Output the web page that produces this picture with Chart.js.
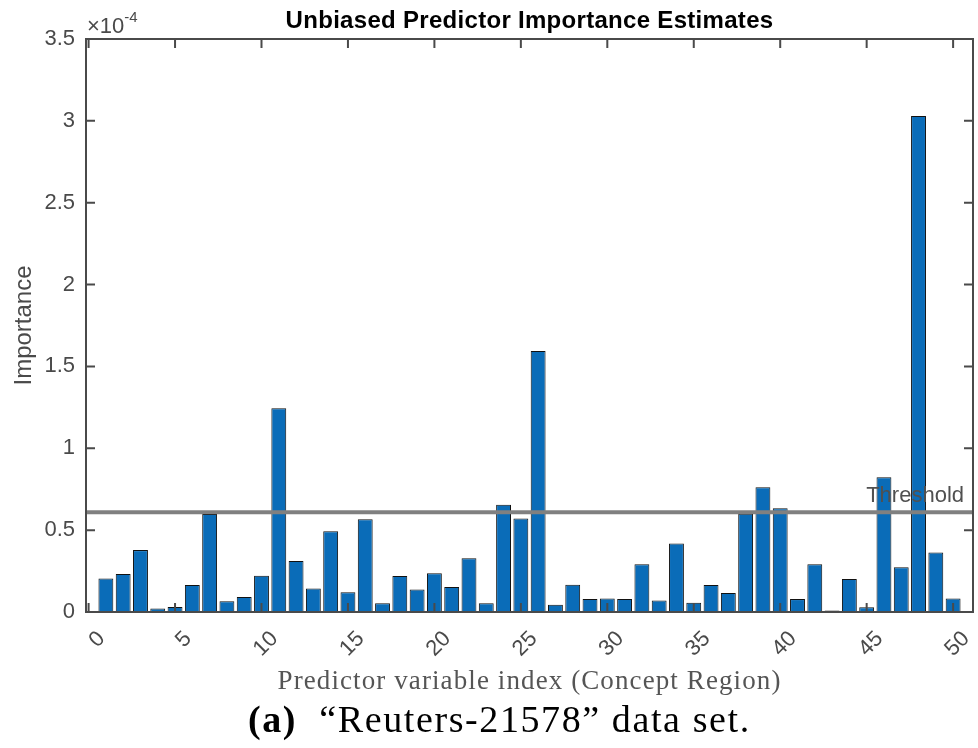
<!DOCTYPE html>
<html>
<head>
<meta charset="utf-8">
<script src="https://cdn.jsdelivr.net/npm/chart.js@4/dist/chart.umd.min.js"></script>
<style>
  body { margin: 0; background: #fff; }
  #wrap { position: relative; width: 978px; height: 748px; }
  #caption {
    position: absolute; left: 248px; top: 700px;
    font-family: "Liberation Serif", serif; font-size: 38px; line-height: 38px;
    letter-spacing: 1.6px; color: #000; white-space: nowrap;
  }
</style>
</head>
<body>
<div id="wrap">
  <canvas id="chart" width="978" height="748"></canvas>
  <div id="caption"><b>(a)</b>&nbsp; “Reuters-21578” data set.</div>
</div>
<script>
// predictor index (x) and unbiased importance estimates, in units of 1e-4
const predictorIndex = [
  1, 2, 3, 4, 5, 6, 7, 8, 9, 10,
  11, 12, 13, 14, 15, 16, 17, 18, 19, 20,
  21, 22, 23, 24, 25, 26, 27, 28, 29, 30,
  31, 32, 33, 34, 35, 36, 37, 38, 39, 40,
  41, 42, 43, 44, 45, 46, 47, 48, 49, 50,
];
const importance = [
  0.204, 0.232, 0.378, 0.021, 0.030, 0.165, 0.598, 0.065, 0.091, 0.222,
  1.245, 0.311, 0.143, 0.494, 0.120, 0.567, 0.053, 0.220, 0.137, 0.236,
  0.152, 0.329, 0.053, 0.655, 0.571, 1.595, 0.045, 0.167, 0.079, 0.082,
  0.079, 0.291, 0.070, 0.419, 0.057, 0.165, 0.116, 0.600, 0.762, 0.634,
  0.079, 0.291, 0.009, 0.201, 0.029, 0.823, 0.273, 3.030, 0.364, 0.082,
];
const xTicks = [0, 5, 10, 15, 20, 25, 30, 35, 40, 45, 50];
const yTicks = [0, 0.5, 1, 1.5, 2, 2.5, 3, 3.5];
const threshold = 0.61;

const axisColor = "#4a4a4a";
const sans = "'Liberation Sans', Arial, sans-serif";

// MATLAB-like box with inward ticks, threshold line, title and exponent label
const matlabAxes = {
  id: "matlabAxes",
  afterDatasetsDraw(chart) {
    const { ctx, chartArea: a, scales } = chart;
    const xs = scales.x;
    const ys = scales.y;
    ctx.save();

    // threshold line
    const ty = ys.getPixelForValue(threshold);
    ctx.strokeStyle = "#808080";
    ctx.lineWidth = 4;
    ctx.beginPath();
    ctx.moveTo(a.left, ty);
    ctx.lineTo(a.right, ty);
    ctx.stroke();

    ctx.fillStyle = "#505050";
    ctx.font = "22px " + sans;
    ctx.textAlign = "right";
    ctx.textBaseline = "alphabetic";
    ctx.fillText("Threshold", a.right - 9, ty - 10);

    // box
    ctx.strokeStyle = axisColor;
    ctx.lineWidth = 2;
    ctx.strokeRect(a.left, a.top, a.right - a.left, a.bottom - a.top);

    // inward ticks
    const tl = 9;
    ctx.beginPath();
    xTicks.forEach((v) => {
      const px = xs.getPixelForValue(v);
      ctx.moveTo(px, a.bottom);
      ctx.lineTo(px, a.bottom - tl);
      ctx.moveTo(px, a.top);
      ctx.lineTo(px, a.top + tl);
    });
    yTicks.forEach((v) => {
      const py = ys.getPixelForValue(v);
      ctx.moveTo(a.left, py);
      ctx.lineTo(a.left + tl, py);
      ctx.moveTo(a.right, py);
      ctx.lineTo(a.right - tl, py);
    });
    ctx.stroke();

    // x10^-4 exponent
    ctx.fillStyle = axisColor;
    ctx.textAlign = "left";
    ctx.font = "22px " + sans;
    ctx.fillText("\u00d710", a.left + 1, a.top - 6);
    const w = ctx.measureText("\u00d710").width;
    ctx.font = "15px " + sans;
    ctx.fillText("-4", a.left + 1 + w, a.top - 17);

    // title
    ctx.fillStyle = "#000";
    ctx.textAlign = "center";
    ctx.font = "bold 24px " + sans;
    ctx.letterSpacing = "0.3px";
    ctx.fillText("Unbiased Predictor Importance Estimates", (a.left + a.right) / 2, a.top - 11);

    // x axis label (serif, like the LaTeX interpreter)
    ctx.fillStyle = "#555";
    ctx.font = "27px 'Liberation Serif', serif";
    ctx.letterSpacing = "1.1px";
    ctx.fillText("Predictor variable index (Concept Region)", (a.left + a.right) / 2, 689);

    ctx.restore();
  },
};

const ctx = document.getElementById("chart").getContext("2d");
new Chart(ctx, {
  type: "bar",
  data: {
    datasets: [
      {
        data: predictorIndex.map((x, i) => ({ x: x, y: importance[i] })),
        backgroundColor: "#0a6cb8",
        borderColor: "#111",
        borderWidth: 1,
        borderSkipped: "start",
        barPercentage: 0.86,
        categoryPercentage: 1,
      },
    ],
  },
  options: {
    responsive: false,
    animation: false,
    events: [],
    layout: { padding: { top: 39, right: 5, left: 0, bottom: 0 } },
    plugins: {
      legend: { display: false },
      tooltip: { enabled: false },
    },
    scales: {
      x: {
        type: "linear",
        offset: false,
        min: -0.15,
        max: 51.15,
        afterBuildTicks: (scale) => {
          scale.ticks = xTicks.map((v) => ({ value: v }));
        },
        afterFit: (scale) => {
          scale.height = 136;
          scale.paddingLeft = 0;
          scale.paddingRight = 0;
        },
        grid: { display: false, drawTicks: false },
        border: { display: false },
        ticks: {
          color: axisColor,
          font: { family: sans, size: 22 },
          minRotation: 45,
          maxRotation: 45,
          padding: 14,
          labelOffset: 13,
        },
      },
      y: {
        min: 0,
        max: 3.5,
        afterBuildTicks: (scale) => {
          scale.ticks = yTicks.map((v) => ({ value: v }));
        },
        afterFit: (scale) => {
          scale.width = 86;
          scale.paddingTop = 0;
          scale.paddingBottom = 0;
        },
        grid: { display: false, drawTicks: false },
        border: { display: false },
        ticks: {
          color: axisColor,
          font: { family: sans, size: 22 },
          padding: 11,
          callback: (v) => String(v),
        },
        title: {
          display: true,
          text: "Importance",
          color: axisColor,
          font: { family: sans, size: 24 },
          padding: { top: 10, bottom: 0 },
        },
      },
    },
  },
  plugins: [matlabAxes],
});
</script>
</body>
</html>
